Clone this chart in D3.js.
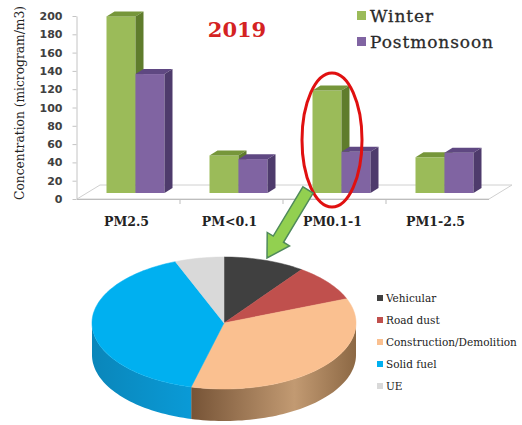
<!DOCTYPE html>
<html>
<head>
<meta charset="utf-8">
<script src="https://cdn.jsdelivr.net/npm/d3@7"></script>
<style>
  body { margin: 0; background: #fff; }
  svg { display: block; }
</style>
</head>
<body>
<svg id="chart" width="522" height="425"></svg>
<script>
// bar chart data
var categories = ["PM2.5", "PM<0.1", "PM0.1-1", "PM1-2.5"];
var winter = [193, 41, 112, 39];
var postmonsoon = [130, 37, 45, 44];
var yTicks = [0, 20, 40, 60, 80, 100, 120, 140, 160, 180, 200];

// pie data (share of sources, %)
var sources = ["Vehicular", "Road dust", "Construction/Demolition", "Solid fuel", "UE"];
var shares = [10, 9, 35, 40, 6];
var sourceColors = ["#404040", "#c0504d", "#fac090", "#00b0f0", "#d9d9d9"];

var svg = d3.select("#chart");

var x = d3.scaleBand()
    .domain(categories)
    .range([77, 489]);

var y = d3.scaleLinear()
    .domain([0, 200])
    .range([199, 16]);

var dx = 8, dy = 5,          // 3d depth of the bars
    lift = 6,                // bars stand back on the floor
    barW = 29;

// floor
svg.append("path")
    .attr("d", "M77,199 L100,185 L512,185 L489,199 Z")
    .attr("fill", "none")
    .attr("stroke", "#d0d0d0")
    .attr("stroke-width", 1);
svg.append("line")
    .attr("x1", 77).attr("x2", 489)
    .attr("y1", 199.5).attr("y2", 199.5)
    .attr("stroke", "#bdbdbd");
x.domain().slice(1).forEach(function(c) {
    svg.append("line")
        .attr("x1", x(c)).attr("x2", x(c))
        .attr("y1", 199).attr("y2", 204)
        .attr("stroke", "#bdbdbd");
});

// y axis
var yAxis = svg.append("g")
    .attr("transform", "translate(76.5,0)")
    .call(d3.axisLeft(y).tickValues(yTicks).tickSize(4).tickSizeOuter(0).tickPadding(10));
yAxis.select(".domain").attr("stroke", "#c4c4c4");
yAxis.selectAll(".tick line").attr("stroke", "#c4c4c4");
yAxis.selectAll("text")
    .attr("font-family", "DejaVu Sans")
    .attr("font-weight", "bold")
    .attr("font-size", 11)
    .attr("fill", "#404040");

svg.append("text")
    .attr("transform", "translate(24,103) rotate(-90)")
    .attr("text-anchor", "middle")
    .attr("font-family", "DejaVu Serif")
    .attr("font-size", 12)
    .attr("textLength", 194)
    .attr("lengthAdjust", "spacingAndGlyphs")
    .attr("fill", "#222")
    .text("Concentration (microgram/m3)");

// category labels
svg.selectAll(".cat")
    .data(categories)
    .enter().append("text")
    .attr("class", "cat")
    .attr("x", function(d) { return x(d) + x.bandwidth() / 2 - 2; })
    .attr("y", 226)
    .attr("text-anchor", "middle")
    .attr("font-family", "DejaVu Serif")
    .attr("font-weight", "bold")
    .attr("font-size", 12.5)
    .attr("fill", "#222")
    .text(function(d) { return d; });

function bar3d(x0, v, front, top, side) {
    var base = y(0) - lift, t = y(v) - lift;
    var g = svg.append("g");
    g.append("rect")
        .attr("x", x0).attr("y", t)
        .attr("width", barW).attr("height", base - t)
        .attr("fill", front);
    g.append("path")
        .attr("d", "M" + x0 + "," + t + "L" + (x0 + dx) + "," + (t - dy) +
            "L" + (x0 + barW + dx) + "," + (t - dy) + "L" + (x0 + barW) + "," + t + "Z")
        .attr("fill", top);
    g.append("path")
        .attr("d", "M" + (x0 + barW) + "," + t + "L" + (x0 + barW + dx) + "," + (t - dy) +
            "L" + (x0 + barW + dx) + "," + (base - dy) + "L" + (x0 + barW) + "," + base + "Z")
        .attr("fill", side);
}

categories.forEach(function(c, i) {
    var cx = x(c) + x.bandwidth() / 2 + 7;
    bar3d(cx - barW, winter[i], "#9bbb59", "#76963a", "#5f7c2c");
    bar3d(cx, postmonsoon[i], "#8064a2", "#5f4882", "#4e3b6c");
});

// title
svg.append("text")
    .attr("x", 237).attr("y", 37)
    .attr("text-anchor", "middle")
    .attr("font-family", "DejaVu Serif")
    .attr("font-weight", "bold")
    .attr("font-size", 21)
    .attr("fill", "#d42222")
    .text("2019");

// legend of the bars
var barLegend = [["Winter", "#9bbb59"], ["Postmonsoon", "#8064a2"]];
barLegend.forEach(function(d, i) {
    svg.append("rect")
        .attr("x", 357).attr("y", 11 + i * 26)
        .attr("width", 9).attr("height", 9)
        .attr("fill", d[1]);
    svg.append("text")
        .attr("x", 370).attr("y", 22 + i * 26)
        .attr("font-family", "DejaVu Serif")
        .attr("font-size", 17)
        .attr("letter-spacing", 0.9)
        .attr("stroke", "#2a2a2a")
        .attr("stroke-width", 0.3)
        .attr("fill", "#2a2a2a")
        .text(d[0]);
});

// red ellipse round PM0.1-1
svg.append("ellipse")
    .attr("cx", 332).attr("cy", 140)
    .attr("rx", 30).attr("ry", 67)
    .attr("fill", "none")
    .attr("stroke", "#e01010")
    .attr("stroke-width", 3);

// arrow
(function() {
    var p0 = [308, 190], p1 = [267, 258];
    var vx = p1[0] - p0[0], vy = p1[1] - p0[1];
    var len = Math.sqrt(vx * vx + vy * vy);
    var ux = vx / len, uy = vy / len, nx = -uy, ny = ux;
    var sw = 6, hw = 13, hl = 22;
    var hb = [p1[0] - ux * hl, p1[1] - uy * hl];
    var pts = [
        [p0[0] + nx * sw, p0[1] + ny * sw],
        [hb[0] + nx * sw, hb[1] + ny * sw],
        [hb[0] + nx * hw, hb[1] + ny * hw],
        p1,
        [hb[0] - nx * hw, hb[1] - ny * hw],
        [hb[0] - nx * sw, hb[1] - ny * sw],
        [p0[0] - nx * sw, p0[1] - ny * sw]
    ];
    svg.append("path")
        .attr("d", d3.line()(pts) + "Z")
        .attr("fill", "#92d050")
        .attr("stroke", "#4f8a5a")
        .attr("stroke-width", 1.5);
})();

// 3d pie
var pcx = 224, pcy = 323, rx = 132, ry = 66, depth = 32;
var arcs = d3.pie().sort(null).startAngle(0).endAngle(2 * Math.PI)(shares);

function pt(a, dz) {
    return [pcx + rx * Math.sin(a), pcy - ry * Math.cos(a) + (dz || 0)];
}
function edge(a0, a1, dz) {
    var n = Math.max(2, Math.ceil((a1 - a0) / 0.03)), out = [];
    for (var k = 0; k <= n; k++) out.push(pt(a0 + (a1 - a0) * k / n, dz));
    return out;
}

var defs = svg.append("defs");
var gBrown = defs.append("linearGradient").attr("id", "sideBrown")
    .attr("gradientUnits", "userSpaceOnUse")
    .attr("x1", 180).attr("x2", 356).attr("y1", 0).attr("y2", 0);
gBrown.append("stop").attr("offset", 0).attr("stop-color", "#6e4c30");
gBrown.append("stop").attr("offset", 0.65).attr("stop-color", "#c29a72");
gBrown.append("stop").attr("offset", 1).attr("stop-color", "#8c6844");
var gBlue = defs.append("linearGradient").attr("id", "sideBlue")
    .attr("gradientUnits", "userSpaceOnUse")
    .attr("x1", 92).attr("x2", 190).attr("y1", 0).attr("y2", 0);
gBlue.append("stop").attr("offset", 0).attr("stop-color", "#0a86ba");
gBlue.append("stop").attr("offset", 1).attr("stop-color", "#0a9ad6");
var sideFill = [null, null, "url(#sideBrown)", "url(#sideBlue)", "#a8a8a8"];

// sides (front half only)
arcs.forEach(function(a, i) {
    var s = Math.max(a.startAngle, Math.PI / 2), e = Math.min(a.endAngle, 3 * Math.PI / 2);
    if (e <= s) return;
    var pts = edge(s, e, 0).concat(edge(s, e, depth).reverse());
    svg.append("path")
        .attr("d", d3.line()(pts) + "Z")
        .attr("fill", sideFill[i] || sourceColors[i]);
});

// top face
arcs.forEach(function(a, i) {
    var pts = [[pcx, pcy]].concat(edge(a.startAngle, a.endAngle, 0));
    svg.append("path")
        .attr("d", d3.line()(pts) + "Z")
        .attr("fill", sourceColors[i])
        .attr("stroke", sourceColors[i])
        .attr("stroke-width", 0.5);
});

// legend of the pie
sources.forEach(function(s, i) {
    svg.append("rect")
        .attr("x", 377).attr("y", 295 + i * 22)
        .attr("width", 6).attr("height", 6)
        .attr("fill", sourceColors[i]);
    svg.append("text")
        .attr("x", 386).attr("y", 302 + i * 22)
        .attr("font-family", "DejaVu Serif")
        .attr("font-size", 10.5)
        .attr("fill", "#222")
        .text(s);
});
</script>
</body>
</html>
